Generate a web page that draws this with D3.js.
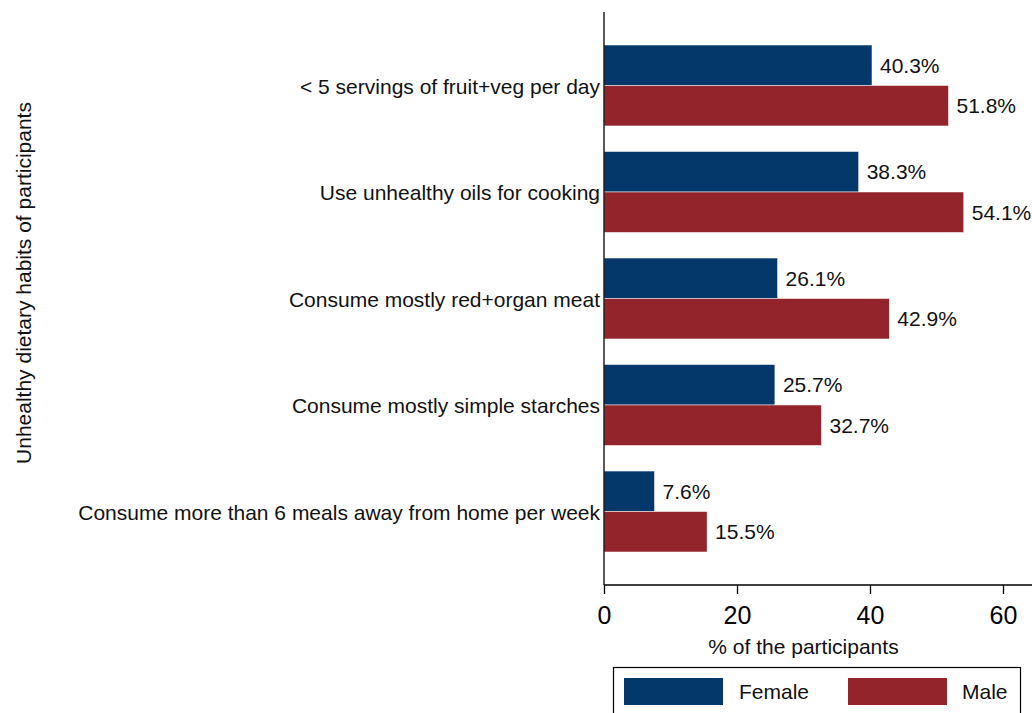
<!DOCTYPE html>
<html><head><meta charset="utf-8">
<script src="https://cdn.jsdelivr.net/npm/d3@7"></script>
<style>body{margin:0;background:#fff}svg{display:block;font-family:Arial,"Liberation Sans",sans-serif}</style>
</head><body><svg id="c" width="1032" height="713"></svg>
<script>
const categories = ["< 5 servings of fruit+veg per day","Use unhealthy oils for cooking","Consume mostly red+organ meat","Consume mostly simple starches","Consume more than 6 meals away from home per week"];
const female = [40.3, 38.3, 26.1, 25.7, 7.6];
const male = [51.8, 54.1, 42.9, 32.7, 15.5];
const seriesNames = ["Female","Male"];
const colors = ["#04376a","#94242b"];
const xTicks = [0,20,40,60];

const svg = d3.select("#c");
const x = d3.scaleLinear().domain([0,60]).range([604,1003]);
const y = d3.scaleBand().domain(categories).range([12,585]).paddingInner(0.24).paddingOuter(0.31);
const barH = y.bandwidth()/2;

const g = svg.append("g");
categories.forEach((c,i)=>{
  [female[i], male[i]].forEach((v,j)=>{
    g.append("rect").attr("x",x(0)).attr("y",y(c)+j*barH).attr("width",x(v)-x(0)).attr("height",barH)
      .attr("fill",colors[j]).attr("stroke","#fff").attr("stroke-width",0.5);
    g.append("text").attr("x",x(v)+8).attr("y",y(c)+j*barH+barH/2).attr("dy","0.35em")
      .attr("font-size",21).attr("fill","#111").text(v.toFixed(1)+"%");
  });
  svg.append("text").attr("x",600).attr("y",y(c)+barH+1).attr("dy","0.35em").attr("text-anchor","end")
    .attr("font-size",21).attr("fill","#111").text(c);
});

// axes
svg.append("line").attr("x1",604).attr("x2",604).attr("y1",12).attr("y2",585).attr("stroke","#000").attr("stroke-width",1.3);
const xa = svg.append("g").attr("transform","translate(0,585)").call(d3.axisBottom(x).tickValues(xTicks).tickSize(9).tickPadding(12));
xa.select(".domain").remove();
svg.append("line").attr("x1",604).attr("x2",1032).attr("y1",585).attr("y2",585).attr("stroke","#000").attr("stroke-width",1.3);
xa.selectAll("line").attr("stroke","#000").attr("stroke-width",1.3);
xa.selectAll("text").attr("font-size",25).attr("font-family","Arial,'Liberation Sans',sans-serif").attr("fill","#000");

svg.append("text").attr("x",x(30)).attr("y",647).attr("dy","0.35em").attr("text-anchor","middle").attr("font-size",21).attr("fill","#111").text("% of the participants");
svg.append("text").attr("transform","translate(24,283) rotate(-90)").attr("dy","0.35em").attr("text-anchor","middle").attr("font-size",21).attr("fill","#111").text("Unhealthy dietary habits of participants");

// legend
svg.append("rect").attr("x",613.5).attr("y",667.5).attr("width",407).attr("height",60).attr("fill","#fff").attr("stroke","#000").attr("stroke-width",1.2);
const lx = [624, 848], tx = [739, 962];
seriesNames.forEach((s,i)=>{
  svg.append("rect").attr("x",lx[i]).attr("y",678).attr("width",99).attr("height",27).attr("fill",colors[i]);
  svg.append("text").attr("x",tx[i]).attr("y",692).attr("dy","0.35em").attr("font-size",21).attr("fill","#111").text(s);
});
</script></body></html>
